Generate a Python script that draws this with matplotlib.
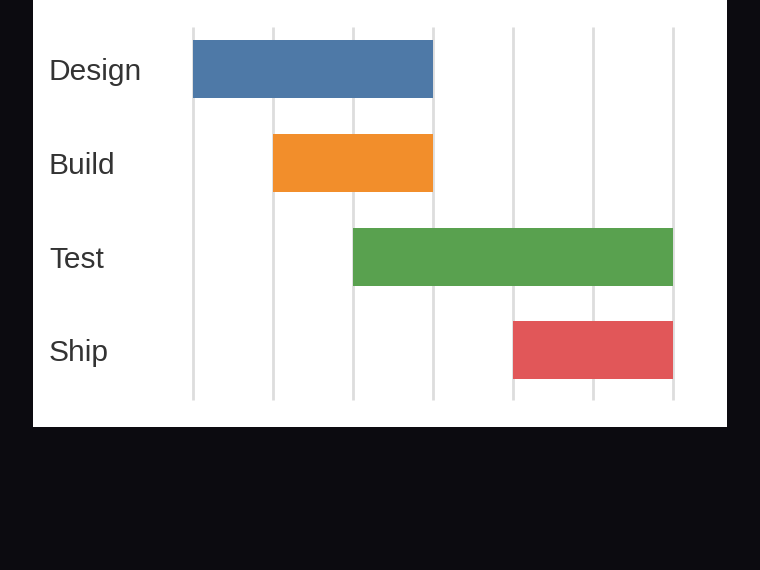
import matplotlib
matplotlib.use("Agg")
import matplotlib.pyplot as plt
from matplotlib.patches import Rectangle

tasks = ["Design", "Build", "Test", "Ship"]
starts = [0, 1, 2, 4]
ends = [3, 3, 6, 6]
colors = ["#4e79a7", "#f28e2b", "#59a14f", "#e15759"]
xticks = [0, 1, 2, 3, 4, 5, 6]

plt.rcParams['font.family'] = ['Liberation Sans', 'DejaVu Sans']

W, H = 760, 570
fig = plt.figure(figsize=(W / 100, H / 100), dpi=100)
fig.patch.set_facecolor("#0c0b10")
fig.patches.append(Rectangle((33 / W, (H - 427) / H), (727 - 33) / W, 1,
                             transform=fig.transFigure, facecolor="white",
                             edgecolor="none", zorder=-5))

ax = fig.add_axes([193 / W, (H - 400) / H, 480 / W, 373 / H])
ax.set_zorder(1)
ax.set_facecolor("none")
widths = [e - s for s, e in zip(starts, ends)]
ax.barh(range(len(tasks)), widths, left=starts, height=0.62, color=colors, zorder=2)

ax.set_xlim(0, 6)
ax.set_ylim(3.53, -0.45)
ax.set_xticks(xticks)
ax.set_xticklabels([])
ax.grid(axis="x", color="#dddddd", linewidth=2)
for gl in ax.get_xgridlines():
    gl.set_clip_on(False)
    gl.set_solid_capstyle("butt")
ax.set_axisbelow(True)
for s in ax.spines.values():
    s.set_visible(False)

ax.set_yticks(range(len(tasks)))
ax.set_yticklabels(tasks, fontsize=21.5, color="#333333", ha="left")
ax.tick_params(axis="y", length=0, pad=144 * 72 / 100)
ax.tick_params(axis="x", length=0)

fig.savefig("out.png", dpi=100, facecolor=fig.get_facecolor())
